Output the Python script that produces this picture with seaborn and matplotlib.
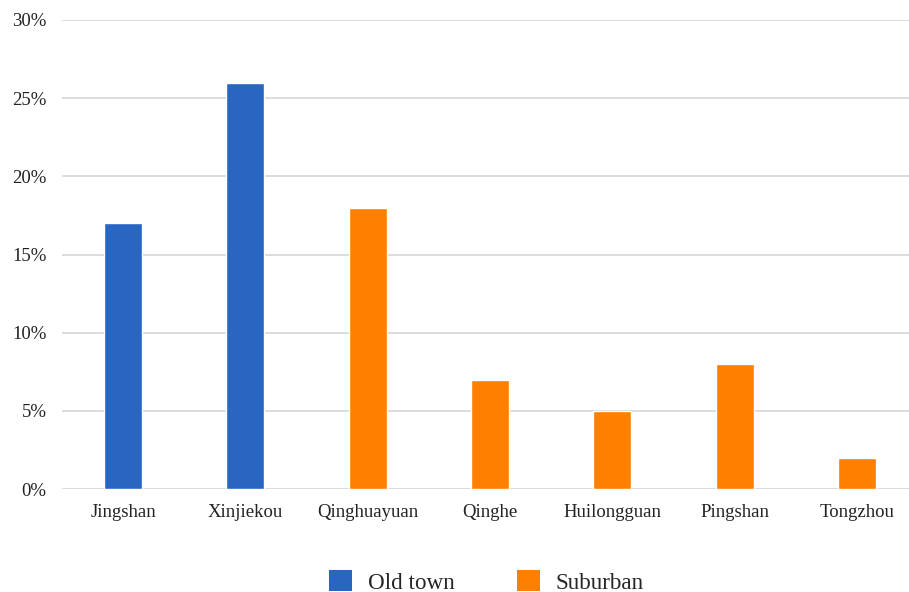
import matplotlib
matplotlib.use("Agg")
import matplotlib.pyplot as plt
from matplotlib.patches import Patch
from matplotlib.ticker import PercentFormatter
import seaborn as sns
import pandas as pd

stations = ["Jingshan", "Xinjiekou", "Qinghuayuan", "Qinghe",
            "Huilongguan", "Pingshan", "Tongzhou"]
shares = [17, 26, 18, 7, 5, 8, 2]
areas = ["Old town", "Old town", "Suburban", "Suburban",
         "Suburban", "Suburban", "Suburban"]
area_colors = {"Old town": "#2966C2", "Suburban": "#FF7F00"}

df = pd.DataFrame({"station": stations, "share": shares, "area": areas})

sns.set_theme(style="white")
plt.rcParams["font.family"] = ["Liberation Serif", "DejaVu Serif"]

fig = plt.figure(figsize=(9.09, 5.92), dpi=100)
ax = fig.add_axes([62 / 909, 1 - 489 / 592, 856 / 909, 469 / 592])

sns.barplot(data=df, x="station", y="share", hue="area", palette=area_colors,
            dodge=False, width=0.31, ax=ax, legend=False, saturation=1)

ax.set_ylim(0, 30)
ax.set_xlim(-0.5, len(stations) - 0.5)
ax.set_yticks(range(0, 31, 5))
ax.yaxis.set_major_formatter(PercentFormatter(decimals=0))
ax.yaxis.grid(True, color="#d6d6d6", linewidth=1.2)
ax.set_axisbelow(True)
for s in ax.spines.values():
    s.set_visible(False)
ax.set_xlabel("")
ax.set_ylabel("")
ax.tick_params(axis="y", length=0, pad=11, labelsize=13.5, labelcolor="#222222")
ax.tick_params(axis="x", length=0, pad=11, labelsize=13.5, labelcolor="#222222")

handles = [Patch(facecolor=area_colors[a], edgecolor="none") for a in area_colors]
fig.legend(handles, list(area_colors), loc="center",
           bbox_to_anchor=(0.535, 0.017), ncol=2, frameon=False,
           fontsize=16.7, handlelength=1.0, handleheight=1.0,
           columnspacing=2.7, handletextpad=0.65)

fig.savefig("out.png", dpi=100)
